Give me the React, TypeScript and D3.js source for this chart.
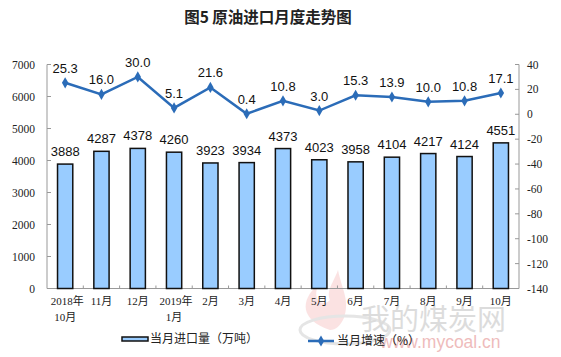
import React from "react";
import * as d3 from "d3";

const categories = [
  ["2018年", "10月"], ["11月"], ["12月"], ["2019年", "1月"], ["2月"], ["3月"], ["4月"],
  ["5月"], ["6月"], ["7月"], ["8月"], ["9月"], ["10月"],
];
const imports = [3888, 4287, 4378, 4260, 3923, 3934, 4373, 4023, 3958, 4104, 4217, 4124, 4551];
const growth = [25.3, 16.0, 30.0, 5.1, 21.6, 0.4, 10.8, 3.0, 15.3, 13.9, 10.0, 10.8, 17.1];
const leftTicks = [0, 1000, 2000, 3000, 4000, 5000, 6000, 7000];
const rightTicks = [40, 20, 0, -20, -40, -60, -80, -100, -120, -140];

const W = 561, H = 357;
const X0 = 47, X1 = 519, YT = 64.5, YB = 288.5;
const LINE = "#2B6CB8";
const serif = "'Liberation Serif', 'Noto Sans CJK SC', serif";
const sans = "'Liberation Sans', Arial, sans-serif";
const cjk = "'Noto Sans CJK SC', sans-serif";

export default function App() {
  const idx = categories.map((_, i) => String(i));
  const x = d3.scaleBand().domain(idx).range([X0, X1]).paddingInner(0).paddingOuter(0);
  const yL = d3.scaleLinear().domain([0, 7000]).range([YB, YT]);
  const yR = d3.scaleLinear().domain([-140, 40]).range([YB, YT]);
  const bw = x.bandwidth() * 0.42;
  const cx = (i: number) => (x(String(i)) as number) + x.bandwidth() / 2;
  const line = d3.line<number>().x((_, i) => cx(i)).y((d) => yR(d));
  const diamond = d3.symbol().type(d3.symbolDiamond).size(36)() as string;

  return (
    <svg width={W} height={H} style={{ position: "absolute", left: 0, top: 0, background: "#fff" }}>
      <rect width={W} height={H} fill="#fff" />
      <text x={268} y={23} textAnchor="middle" fontFamily={cjk} fontSize={15.5} fontWeight={700} fill="#222">
        图5  原油进口月度走势图
      </text>

      {/* watermark */}
      <g opacity={0.5}>
        <path d="M330,330 C300,320 300,300 318,285 C312,300 322,308 330,300 C326,290 334,282 338,270 C342,290 350,300 344,318 C340,326 336,330 330,330 Z" fill="#f4a0a0" opacity={0.6} />
        <ellipse cx={345} cy={330} rx={45} ry={14} fill="none" stroke="#ccc" strokeWidth={3} />
        <text x={361} y={330} fontFamily={cjk} fontSize={29} fill="#bbb">我的煤炭网</text>
        <text x={380} y={348} fontFamily={sans} fontSize={17.5} fill="#e07a7a">www.mycoal.cn</text>
      </g>

      {/* axes */}
      <line x1={X0} x2={X0} y1={YT} y2={YB} stroke="#999" />
      <line x1={X1} x2={X1} y1={YT} y2={YB} stroke="#999" />
      <line x1={X0} x2={X1} y1={YB} y2={YB} stroke="#999" />
      {leftTicks.map((t) => (
        <g key={"l" + t}>
          <line x1={X0} x2={X0 + 4} y1={yL(t)} y2={yL(t)} stroke="#999" />
          <text x={35} y={yL(t) + 4} textAnchor="end" fontFamily={serif} fontSize={11.5} fill="#222">{t}</text>
        </g>
      ))}
      {rightTicks.map((t) => (
        <g key={"r" + t}>
          <line x1={X1 - 4} x2={X1} y1={yR(t)} y2={yR(t)} stroke="#999" />
          <text x={527} y={yR(t) + 4} textAnchor="start" fontFamily={serif} fontSize={11.5} fill="#222">{t}</text>
        </g>
      ))}
      {idx.slice(1).map((k) => (
        <line key={"xt" + k} x1={x(k)} x2={x(k)} y1={YB} y2={YB - 3} stroke="#999" />
      ))}

      {/* bars */}
      {imports.map((v, i) => (
        <g key={"b" + i}>
          <rect x={cx(i) - bw / 2} y={yL(v)} width={bw} height={YB - yL(v)} fill="#99CCFF" stroke="#111" strokeWidth={1.5} />
          <text x={cx(i)} y={yL(v) - 8} textAnchor="middle" fontFamily={sans} fontSize={13} fill="#111">{v}</text>
        </g>
      ))}

      {/* line */}
      <path d={line(growth) as string} fill="none" stroke={LINE} strokeWidth={2.5} />
      {growth.map((v, i) => (
        <g key={"p" + i}>
          <path d={diamond} transform={`translate(${cx(i)},${yR(v)})`} fill={LINE} />
          <text x={cx(i)} y={yR(v) - 10} textAnchor="middle" fontFamily={sans} fontSize={13} fill="#111">{v.toFixed(1)}</text>
        </g>
      ))}

      {/* x labels */}
      {categories.map((c, i) => (
        <text key={"x" + i} textAnchor="middle" fontFamily={serif} fontSize={11} fill="#222">
          {c.map((s, j) => (
            <tspan key={j} x={cx(i) + (c.length > 1 && j === 0 ? 2 : 0)} y={305 + j * 16}>{s}</tspan>
          ))}
        </text>
      ))}

      {/* legend */}
      <rect x={122} y={337} width={26} height={4} fill="#99CCFF" stroke="#111" strokeWidth={1.5} />
      <text x={150} y={343} fontFamily={cjk} fontSize={12} fill="#222">当月进口量（万吨）</text>
      <line x1={308} x2={334} y1={341} y2={341} stroke={LINE} strokeWidth={2.5} />
      <path d={diamond} transform="translate(321,341)" fill={LINE} />
      <text x={337} y={345} fontFamily={cjk} fontSize={12} fill="#222">当月增速（%）</text>
    </svg>
  );
}
